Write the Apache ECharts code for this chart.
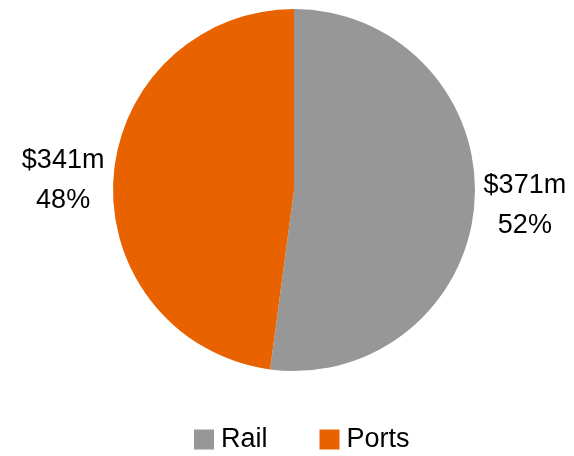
<!DOCTYPE html>
<html><head><meta charset="utf-8">
<script src="https://cdn.jsdelivr.net/npm/echarts@6/dist/echarts.min.js"></script>
<style>html,body{margin:0;padding:0;background:#fff}#c{width:574px;height:456px}</style>
</head><body><div id="c"></div>
<script>
const categories = ['Rail', 'Ports'];
const values = [371, 341];
const valueLabels = ['$371m', '$341m'];
const percentLabels = ['52%', '48%'];
const colors = ['#979797', '#E96200'];
const FONT = "'Liberation Sans', Arial, sans-serif";

const chart = echarts.init(document.getElementById('c'), null, {renderer: 'canvas'});
chart.setOption({
  animation: false,
  color: colors,
  legend: {
    top: 426,
    left: 194,
    padding: 0,
    itemWidth: 20,
    itemHeight: 20,
    itemGap: 52,
    icon: 'rect',
    textStyle: {fontFamily: FONT, fontSize: 27, color: '#000', padding: [0, 0, 0, 2]},
    data: categories
  },
  series: [{
    type: 'pie',
    center: [294, 190],
    radius: [0, 181],
    startAngle: 90,
    clockwise: true,
    label: {
      show: true,
      position: 'outside',
      fontFamily: FONT,
      fontSize: 27,
      lineHeight: 40,
      color: '#000',
      overflow: 'none',
      formatter: p => valueLabels[p.dataIndex] + '\n' + percentLabels[p.dataIndex]
    },
    labelLine: {show: false, length: 2, length2: 2},
    labelLayout: p => ({x: p.labelRect.x + p.labelRect.width / 2, dy: 3, align: 'center'}),
    itemStyle: {borderWidth: 0},
    emphasis: {disabled: true},
    data: categories.map((c, i) => ({name: c, value: values[i]}))
  }]
});
</script></body></html>
